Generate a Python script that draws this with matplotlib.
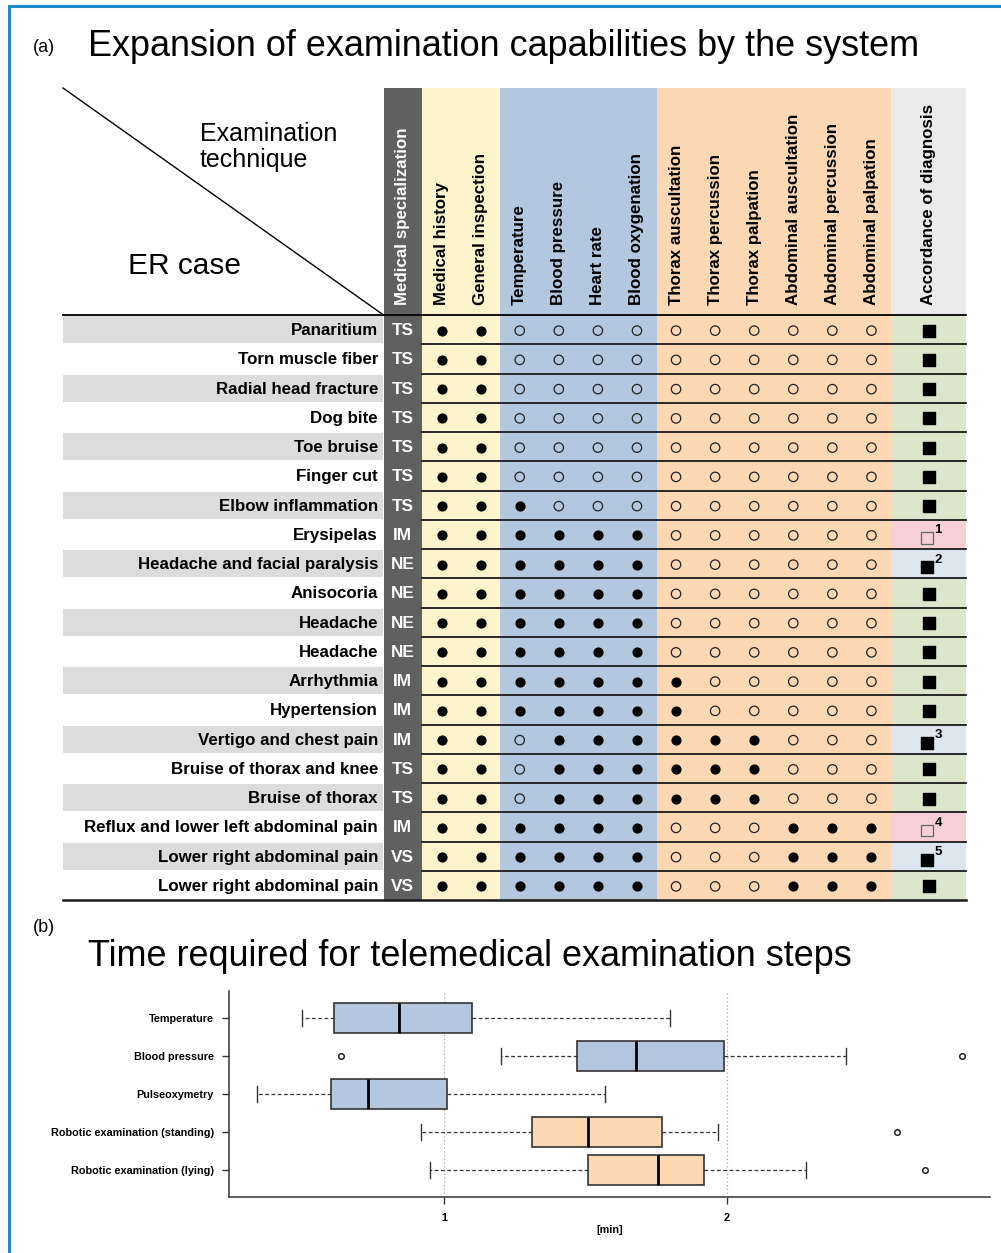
import numpy as np
import matplotlib.pyplot as plt
from matplotlib.patches import Rectangle

plt.rcParams['font.family'] = ['Liberation Sans', 'DejaVu Sans']

# ---- data: (a) examination table ----
cases = ['Panaritium', 'Torn muscle fiber', 'Radial head fracture', 'Dog bite',
         'Toe bruise', 'Finger cut', 'Elbow inflammation', 'Erysipelas',
         'Headache and facial paralysis', 'Anisocoria', 'Headache', 'Headache',
         'Arrhythmia', 'Hypertension', 'Vertigo and chest pain',
         'Bruise of thorax and knee', 'Bruise of thorax',
         'Reflux and lower left abdominal pain', 'Lower right abdominal pain',
         'Lower right abdominal pain']
specialization = ['TS', 'TS', 'TS', 'TS', 'TS', 'TS', 'TS', 'IM', 'NE', 'NE',
                  'NE', 'NE', 'IM', 'IM', 'IM', 'TS', 'TS', 'IM', 'VS', 'VS']
techniques = ['Medical history', 'General inspection', 'Temperature',
              'Blood pressure', 'Heart rate', 'Blood oxygenation',
              'Thorax auscultation', 'Thorax percussion', 'Thorax palpation',
              'Abdominal auscultation', 'Abdominal percussion',
              'Abdominal palpation']
technique_group = [0, 0, 1, 1, 1, 1, 2, 2, 2, 2, 2, 2]
# 1 = examination done via the system, 0 = not done
findings = [
    [1, 1, 0, 0, 0, 0, 0, 0, 0, 0, 0, 0],
    [1, 1, 0, 0, 0, 0, 0, 0, 0, 0, 0, 0],
    [1, 1, 0, 0, 0, 0, 0, 0, 0, 0, 0, 0],
    [1, 1, 0, 0, 0, 0, 0, 0, 0, 0, 0, 0],
    [1, 1, 0, 0, 0, 0, 0, 0, 0, 0, 0, 0],
    [1, 1, 0, 0, 0, 0, 0, 0, 0, 0, 0, 0],
    [1, 1, 1, 0, 0, 0, 0, 0, 0, 0, 0, 0],
    [1, 1, 1, 1, 1, 1, 0, 0, 0, 0, 0, 0],
    [1, 1, 1, 1, 1, 1, 0, 0, 0, 0, 0, 0],
    [1, 1, 1, 1, 1, 1, 0, 0, 0, 0, 0, 0],
    [1, 1, 1, 1, 1, 1, 0, 0, 0, 0, 0, 0],
    [1, 1, 1, 1, 1, 1, 0, 0, 0, 0, 0, 0],
    [1, 1, 1, 1, 1, 1, 1, 0, 0, 0, 0, 0],
    [1, 1, 1, 1, 1, 1, 1, 0, 0, 0, 0, 0],
    [1, 1, 0, 1, 1, 1, 1, 1, 1, 0, 0, 0],
    [1, 1, 0, 1, 1, 1, 1, 1, 1, 0, 0, 0],
    [1, 1, 0, 1, 1, 1, 1, 1, 1, 0, 0, 0],
    [1, 1, 1, 1, 1, 1, 0, 0, 0, 1, 1, 1],
    [1, 1, 1, 1, 1, 1, 0, 0, 0, 1, 1, 1],
    [1, 1, 1, 1, 1, 1, 0, 0, 0, 1, 1, 1],
]
accordance = ['full'] * 7 + ['none', 'partial', 'full', 'full', 'full', 'full',
                             'full', 'partial', 'full', 'full', 'none',
                             'partial', 'full']
footnotes = [''] * 7 + ['1', '2', '', '', '', '', '', '3', '', '', '4', '5', '']

# ---- data: (b) time for telemedical steps [min] ----
steps = ['Temperature', 'Blood pressure', 'Pulseoxymetry',
         'Robotic examination (standing)', 'Robotic examination (lying)']
step_group = [0, 0, 0, 1, 1]
whisker_low = [0.50, 1.20, 0.34, 0.92, 0.95]
q1 = [0.61, 1.47, 0.60, 1.31, 1.51]
median = [0.84, 1.68, 0.73, 1.51, 1.755]
q3 = [1.10, 1.99, 1.01, 1.77, 1.92]
whisker_high = [1.80, 2.42, 1.57, 1.97, 2.28]
outliers = [[], [0.635, 2.83], [], [2.60], [2.70]]

W, H = 1001, 1253
fig = plt.figure(figsize=(W / 100, H / 100), dpi=100)

# overlay in pixel units for the table
ax = fig.add_axes([0, 0, 1, 1])
ax.set_xlim(0, W)
ax.set_ylim(H, 0)
ax.axis('off')

# frame lines of the page
ax.plot([8.5, 8.5, W], [H, 6, 6], color='#1f88c8', lw=2.2, solid_joinstyle='miter')

fig.text(33 / W, 1 - 47 / H, '(a)', fontsize=13, va='center')
fig.text(88 / W, 1 - 47 / H, 'Expansion of examination capabilities by the system',
         fontsize=25.9, va='center')
fig.text(33 / W, 1 - 928 / H, '(b)', fontsize=13, va='center')
fig.text(88 / W, 1 - 956 / H, 'Time required for telemedical examination steps',
         fontsize=25.9, va='center')

# table layout
LAB_L, SPEC_L, EX_L, ACC_L, ACC_R = 63, 383.5, 422, 891, 966
TOP, HBOT, BOT = 88, 315, 900
n_rows = len(cases)
row_h = (BOT - HBOT) / n_rows
col_w = (ACC_L - EX_L) / len(techniques)
group_colors = ['#fdf4cd', '#b3c7de', '#fdd8b4']
acc_colors = {'full': '#dbe6cc', 'partial': '#dde5ef', 'none': '#f6d0d6'}

for g, c in enumerate(group_colors):
    cols = [j for j, tg in enumerate(technique_group) if tg == g]
    x0 = EX_L + cols[0] * col_w
    ax.add_patch(Rectangle((x0, TOP), len(cols) * col_w, BOT - TOP, color=c, lw=0))
ax.add_patch(Rectangle((SPEC_L, TOP), EX_L - SPEC_L, BOT - TOP, color='#606060', lw=0))
ax.add_patch(Rectangle((ACC_L, TOP), ACC_R - ACC_L, HBOT - TOP, color='#ebebeb', lw=0))

row_y = HBOT + (np.arange(n_rows) + 0.5) * row_h
col_x = EX_L + (np.arange(len(techniques)) + 0.5) * col_w
acc_x = (ACC_L + ACC_R) / 2
spec_x = (SPEC_L + EX_L) / 2

for i, name in enumerate(cases):
    y0 = HBOT + i * row_h
    if i % 2 == 0:
        ax.add_patch(Rectangle((LAB_L, y0 + 1), SPEC_L - LAB_L - 1, row_h - 2,
                               color='#dcdcdc', lw=0))
    ax.add_patch(Rectangle((ACC_L, y0), ACC_R - ACC_L, row_h,
                           color=acc_colors[accordance[i]], lw=0))
    ax.text(378, row_y[i] + 1, name, ha='right', va='center', fontsize=12.2,
            fontweight='bold')
    ax.text(spec_x, row_y[i] + 1, specialization[i], ha='center', va='center',
            fontsize=12.4, fontweight='bold', color='white')

# row separators
for i in range(1, n_rows):
    ax.plot([EX_L, ACC_R], [HBOT + i * row_h] * 2, color='#1a1a1a', lw=1.3)
ax.plot([LAB_L, ACC_R], [HBOT, HBOT], color='black', lw=1.3)
ax.plot([LAB_L, ACC_R], [BOT, BOT], color='#1a1a1a', lw=1.8)
ax.plot([LAB_L, SPEC_L], [TOP, HBOT], color='black', lw=1)

# header texts
ax.text(200, 147, 'Examination\ntechnique', fontsize=18, va='center',
        linespacing=1.15)
ax.text(128, 266, 'ER case', fontsize=21.5, va='center')
ax.text(spec_x, 305, 'Medical specialization', rotation=90, ha='center',
        va='bottom', fontsize=12.2, fontweight='bold', color='white')
for j, t in enumerate(techniques):
    ax.text(col_x[j], 305, t, rotation=90, ha='center', va='bottom',
            fontsize=12.2, fontweight='bold')
ax.text(acc_x, 305, 'Accordance of diagnosis', rotation=90, ha='center',
        va='bottom', fontsize=12.2, fontweight='bold')

# markers
F = np.array(findings)
rr, cc = np.nonzero(F == 1)
ax.scatter(col_x[cc], row_y[rr] + 1, s=40, color='black', zorder=3)
rr, cc = np.nonzero(F == 0)
ax.scatter(col_x[cc], row_y[rr] + 1, s=46, facecolor='none', edgecolor='#222222',
           lw=0.9, zorder=3)
acc = np.array(accordance)
has_note = np.array([1.0 if fn else 0.0 for fn in footnotes])
ok = np.nonzero(acc != 'none')[0]
ax.scatter(acc_x - 1.5 * has_note[ok], row_y[ok] + 1 + 2.5 * has_note[ok], s=66,
           marker='s', color='black', zorder=3)
bad = np.nonzero(acc == 'none')[0]
ax.scatter(np.full(len(bad), acc_x - 1.5), row_y[bad] + 3.5, s=66, marker='s',
           facecolor='none', edgecolor='#666666', lw=0.9, zorder=3)
for i, fn in enumerate(footnotes):
    if fn:
        ax.text(acc_x + 6, row_y[i] - 4, fn, fontsize=9.5, fontweight='bold',
                ha='left', va='center')

# ---- (b) boxplot ----
bx = fig.add_axes([229 / W, 1 - 1196.6 / H, (990 - 229) / W, (1196.6 - 991.4) / H])
stats = []
for k in range(len(steps)):
    stats.append(dict(label=steps[k], whislo=whisker_low[k], q1=q1[k],
                      med=median[k], q3=q3[k], whishi=whisker_high[k],
                      fliers=outliers[k]))
pos = np.arange(1, len(steps) + 1)
for x in (1, 2):
    bx.axvline(x, color='#aaaaaa', ls=(0, (1, 2)), lw=0.9, zorder=0)
res = bx.bxp(stats, positions=pos, widths=0.8, orientation='horizontal',
             patch_artist=True,
             boxprops=dict(edgecolor='#333333', lw=1.2),
             medianprops=dict(color='black', lw=2),
             whiskerprops=dict(color='#333333', ls=(0, (3, 2)), lw=0.9),
             capprops=dict(color='#333333', lw=1),
             flierprops=dict(marker='o', markerfacecolor='none',
                             markeredgecolor='#222222', markersize=4,
                             markeredgewidth=1.1))
box_colors = ['#b3c6de', '#fdd9b3']
for patch, g in zip(res['boxes'], step_group):
    patch.set_facecolor(box_colors[g])

lo = min(min(whisker_low), min(min(o) for o in outliers if o))
hi = max(max(whisker_high), max(max(o) for o in outliers if o))
ext = 0.04 * (hi - lo)
bx.set_xlim(lo - ext, hi + ext)
bx.set_ylim(len(steps) + 0.7, 0.3)
bx.set_xticks([1, 2])
bx.set_xticklabels(['1', '2'], fontsize=7.8, fontweight='bold')
bx.set_yticks(pos)
bx.set_yticklabels(steps, fontsize=7.8, fontweight='bold')
bx.tick_params(length=5, width=1, color='#333333', pad=6)
bx.tick_params(axis='x', pad=7)
bx.set_xlabel('[min]', fontsize=7.8, fontweight='bold', labelpad=1)
for s in ('top', 'right'):
    bx.spines[s].set_visible(False)
for s in ('left', 'bottom'):
    bx.spines[s].set_color('#333333')
    bx.spines[s].set_linewidth(1.1)

fig.savefig('out.png', dpi=100)
